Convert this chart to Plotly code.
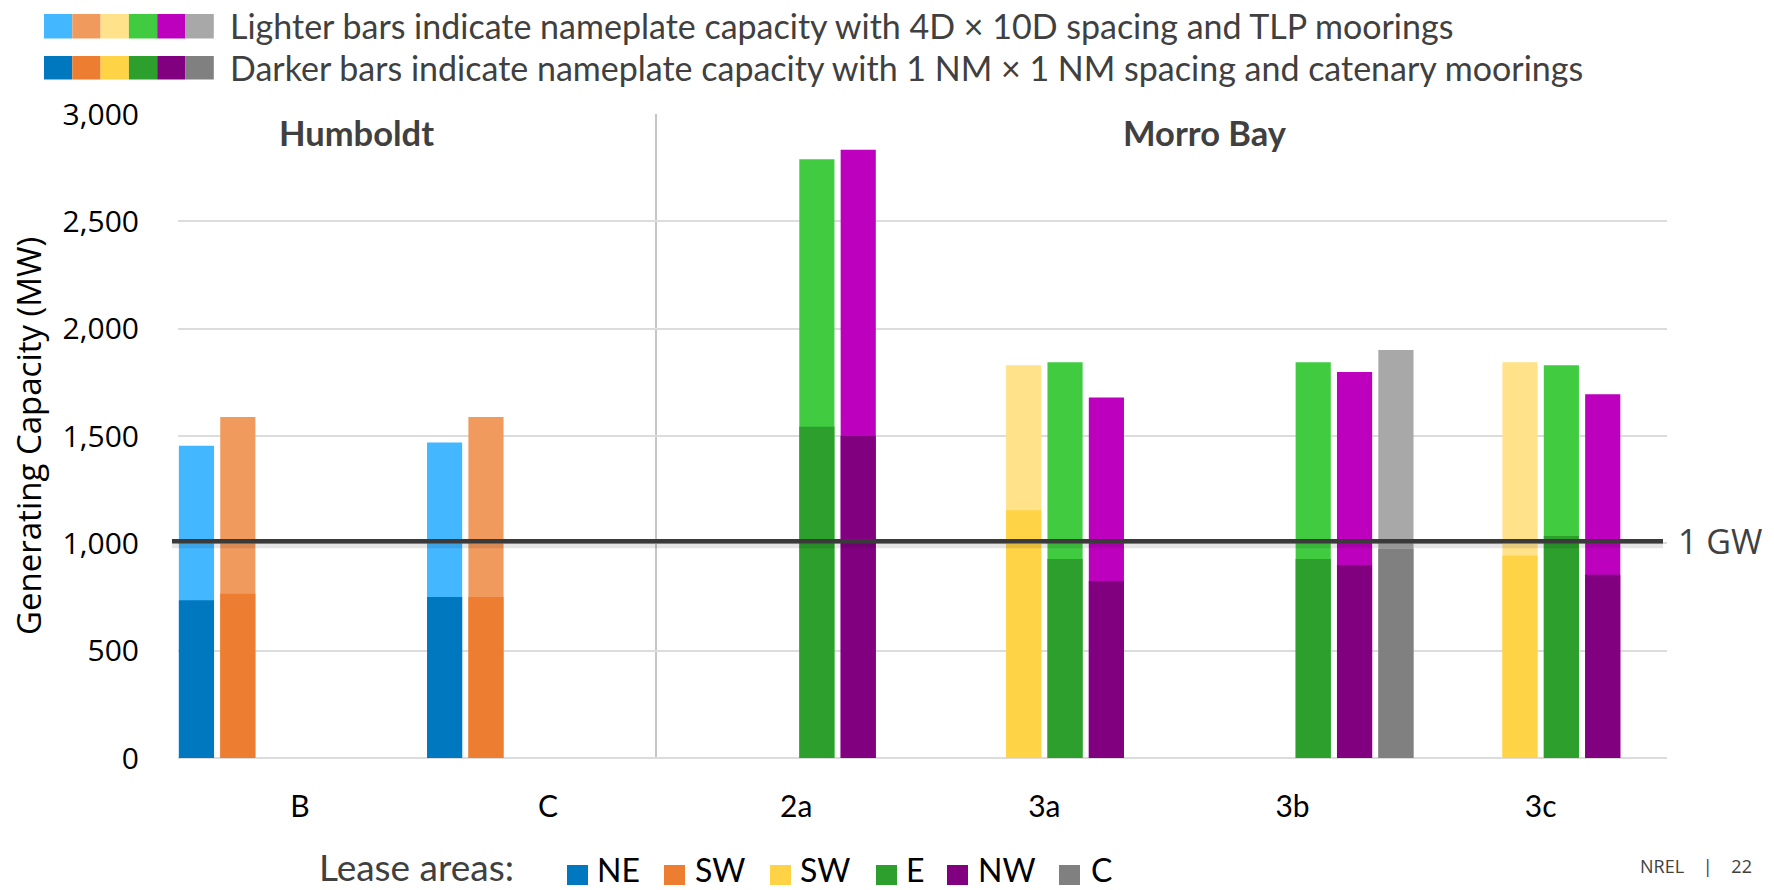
import plotly.graph_objects as go

# ---------------- data ----------------
categories = ["B", "C", "2a", "3a", "3b", "3c"]
series_names = ["NE", "SW", "SW", "E", "NW", "C"]

# lighter bars: 4D x 10D spacing, TLP moorings (MW)
light_NE = [1455, 1470, None, None, None, None]
light_SW_h = [1589, 1589, None, None, None, None]
light_SW_m = [None, None, None, 1830, None, 1844]
light_E = [None, None, 2789, 1844, 1844, 1830]
light_NW = [None, None, 2833, 1679, 1798, 1695]
light_C = [None, None, None, None, 1901, None]

# darker bars: 1 NM x 1 NM spacing, catenary moorings (MW)
dark_NE = [735, 750, None, None, None, None]
dark_SW_h = [765, 750, None, None, None, None]
dark_SW_m = [None, None, None, 1154, None, 943]
dark_E = [None, None, 1543, 927, 927, 1034]
dark_NW = [None, None, 1500, 824, 899, 854]
dark_C = [None, None, None, None, 975, None]

y_ticks = [0, 500, 1000, 1500, 2000, 2500, 3000]
gw_line_value = 1010

light_colors = ["#43B7FF", "#F19A5E", "#FFE28A", "#41CB41", "#BD00BD", "#A8A8A8"]
dark_colors = ["#0078BF", "#ED7D31", "#FFD345", "#2C9F2C", "#800080", "#808080"]

light_series = [light_NE, light_SW_h, light_SW_m, light_E, light_NW, light_C]
dark_series = [dark_NE, dark_SW_h, dark_SW_m, dark_E, dark_NW, dark_C]

# ---------------- layout geometry ----------------
W, H = 1774, 890
L, R, T, B = 178, 107, 114, 132
PW, PH = W - L - R, H - T - B


def px_x(p):
    return (p - L) / PW


def px_y(p):
    return (H - B - p) / PH


fig = go.Figure()
for i in range(6):
    fig.add_trace(go.Bar(
        x=categories, y=light_series[i], name=series_names[i] + " (light)",
        marker=dict(color=light_colors[i], line=dict(width=0)),
        offsetgroup=str(i), showlegend=False, hoverinfo="x+y"))
for i in range(6):
    fig.add_trace(go.Bar(
        x=categories, y=dark_series[i], name=series_names[i],
        marker=dict(color=dark_colors[i], line=dict(width=0)),
        offsetgroup=str(i), showlegend=False, hoverinfo="x+y"))

shapes = []
# divider between Humboldt and Morro Bay
shapes.append(dict(type="line", xref="paper", yref="paper",
                   x0=px_x(656), x1=px_x(656), y0=0, y1=1,
                   line=dict(color="#8C8C8C", width=1), layer="below"))
# 1 GW line shadow + line
shapes.append(dict(type="line", xref="paper", yref="y",
                   x0=px_x(172), x1=px_x(1663), y0=gw_line_value - 14, y1=gw_line_value - 14,
                   line=dict(color="rgba(0,0,0,0.10)", width=8)))
shapes.append(dict(type="line", xref="paper", yref="y",
                   x0=px_x(172), x1=px_x(1663), y0=gw_line_value, y1=gw_line_value,
                   line=dict(color="#3A3A3A", width=4.5)))

annotations = []
# top legend swatches
sw_w = 28.3
for row, (cols, y0, y1) in enumerate([(light_colors, 14, 38.5), (dark_colors, 56, 79.5)]):
    for i, c in enumerate(cols):
        shapes.append(dict(type="rect", xref="paper", yref="paper",
                           x0=px_x(44 + i * sw_w), x1=px_x(44 + (i + 1) * sw_w),
                           y0=px_y(y1), y1=px_y(y0), fillcolor=c, line=dict(width=0)))
annotations.append(dict(text="Lighter bars indicate nameplate capacity with 4D × 10D spacing and TLP moorings",
                        xref="paper", yref="paper", x=px_x(228), y=px_y(25), xanchor="left", yanchor="middle",
                        showarrow=False, font=dict(family="Lato", size=34, color="#404040")))
annotations.append(dict(text="Darker bars indicate nameplate capacity with 1 NM × 1 NM spacing and catenary moorings",
                        xref="paper", yref="paper", x=px_x(228), y=px_y(67), xanchor="left", yanchor="middle",
                        showarrow=False, font=dict(family="Lato", size=34, color="#404040")))

# region titles
annotations.append(dict(text="<b>Humboldt</b>", xref="paper", yref="paper", x=px_x(356), y=px_y(133),
                        xanchor="center", yanchor="middle", showarrow=False,
                        font=dict(family="Lato", size=34.5, color="#404040")))
annotations.append(dict(text="<b>Morro Bay</b>", xref="paper", yref="paper", x=px_x(1205), y=px_y(133),
                        xanchor="center", yanchor="middle", showarrow=False,
                        font=dict(family="Lato", size=34.5, color="#404040")))

# 1 GW label
annotations.append(dict(text="1 GW", xref="paper", yref="y", x=px_x(1676), y=gw_line_value,
                        xanchor="left", yanchor="middle", showarrow=False,
                        font=dict(family="Open Sans", size=34, color="#404040")))

# y title
annotations.append(dict(text="Generating Capacity (MW)", xref="paper", yref="paper", x=px_x(28), y=0.5,
                        xanchor="center", yanchor="middle", textangle=-90, showarrow=False,
                        font=dict(family="Open Sans", size=33, color="#000000")))

# bottom legend
annotations.append(dict(text="Lease areas:", xref="paper", yref="paper", x=px_x(318), y=px_y(890),
                        xanchor="left", yanchor="bottom", showarrow=False, borderpad=0,
                        font=dict(family="Lato", size=37, color="#404040")))
legend_sq_x = [567, 664, 770, 876, 947, 1059]
legend_txt_x = [596, 694, 799, 905, 977, 1090]
for i in range(6):
    shapes.append(dict(type="rect", xref="paper", yref="paper",
                       x0=px_x(legend_sq_x[i]), x1=px_x(legend_sq_x[i] + 21),
                       y0=px_y(885), y1=px_y(865), fillcolor=dark_colors[i], line=dict(width=0)))
    annotations.append(dict(text=series_names[i], xref="paper", yref="paper", x=px_x(legend_txt_x[i]),
                            y=px_y(890), xanchor="left", yanchor="bottom", showarrow=False, borderpad=0,
                            font=dict(family="Lato", size=32, color="#000000")))

# footer
annotations.append(dict(text="NREL    |    22", xref="paper", yref="paper", x=px_x(1638), y=px_y(866),
                        xanchor="left", yanchor="middle", showarrow=False,
                        font=dict(family="Open Sans", size=18, color="#404040")))

fig.update_layout(
    width=W, height=H,
    margin=dict(l=L, r=R, t=T, b=B, autoexpand=False),
    paper_bgcolor="white", plot_bgcolor="white",
    barmode="group", bargap=0.0, bargroupgap=0.15,
    showlegend=False,
    shapes=shapes, annotations=annotations,
    xaxis=dict(type="category", categoryorder="array", categoryarray=categories,
               range=[-0.491, 5.509], showgrid=False, zeroline=False, showline=False,
               ticks="", ticklabelstandoff=28,
               tickfont=dict(family="Lato", size=30, color="#000000")),
    yaxis=dict(range=[0, 3000], tickvals=y_ticks, tickformat=",",
               showgrid=True, gridcolor="#DCDCDC", gridwidth=2,
               zeroline=True, zerolinecolor="#DCDCDC", zerolinewidth=2,
               showline=False, ticks="", ticklabelstandoff=38,
               tickfont=dict(family="Open Sans", size=30, color="#000000")),
)

fig.write_html("out.html")
